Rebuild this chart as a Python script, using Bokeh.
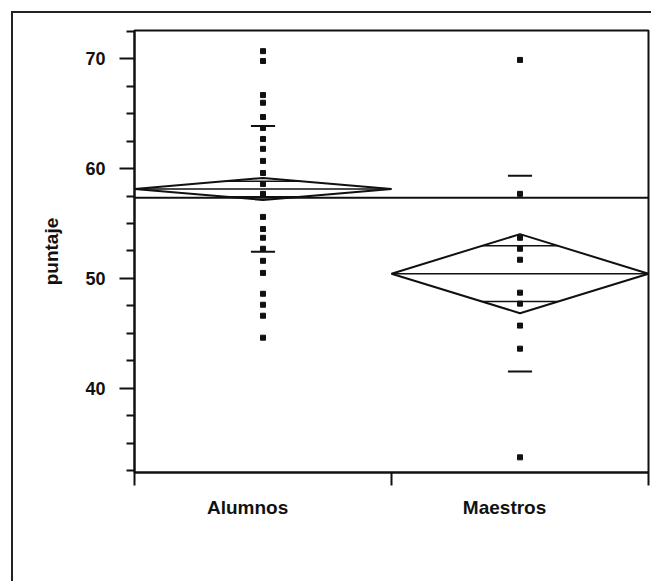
import numpy as np
from bokeh.plotting import figure
from bokeh.models import Range1d, FixedTicker, LinearAxis, Span
from bokeh.embed import file_html
from bokeh.resources import INLINE

# Groups and their individual scores
categories = ["Alumnos", "Maestros"]
alumnos_scores = [70.7, 69.8, 66.7, 66.0, 64.7, 63.7, 62.7, 61.8, 60.7, 59.6, 58.6,
                  57.7, 55.6, 54.5, 53.7, 52.7, 51.6, 50.5, 48.6, 47.6, 46.6, 44.6]
maestros_scores = [69.9, 57.7, 53.7, 52.7, 51.7, 48.7, 47.7, 45.7, 43.6, 33.7]

# Group summaries: means, 95% CI half-widths (diamonds), standard deviations
group_means = [58.15, 50.43]
group_ci_half = [1.0, 3.6]
group_sd = [5.72, 8.91]
grand_mean = 57.35

y_ticks = [40, 50, 60, 70]
y_minor_ticks = [32.5, 35, 37.5, 42.5, 45, 47.5, 52.5, 55, 57.5, 62.5, 65, 67.5, 72.5]

ink = "#111111"
font = "Liberation Sans"

p = figure(width=640, height=570,
           x_range=Range1d(0, 2), y_range=Range1d(32.32, 72.58),
           output_backend="svg", toolbar_location=None,
           x_axis_location=None, margin=(11, 0, 0, 11),
           styles={"border-left": "2px solid #222", "border-top": "2px solid #222"})
p.min_border_left = 121
p.min_border_right = 5
p.min_border_top = 17
p.min_border_bottom = 111
p.xgrid.visible = False
p.ygrid.visible = False
p.outline_line_color = ink
p.outline_line_width = 2
p.outline_line_alpha = 1
p.background_fill_color = "white"
p.border_fill_color = "white"

# y axis
ya = p.yaxis[0]
ya.ticker = FixedTicker(ticks=y_ticks, minor_ticks=y_minor_ticks)
ya.axis_label = "puntaje"
ya.axis_label_text_font = font
ya.axis_label_text_font_style = "bold"
ya.axis_label_text_font_size = "19px"
ya.axis_label_text_color = ink
ya.axis_label_standoff = 20
ya.major_label_text_font = font
ya.major_label_text_font_style = "bold"
ya.major_label_text_font_size = "18px"
ya.major_label_text_color = ink
ya.major_label_standoff = 14
ya.axis_line_width = 2
ya.axis_line_color = ink
ya.major_tick_line_width = 2
ya.major_tick_line_color = ink
ya.major_tick_out = 15
ya.major_tick_in = 0
ya.minor_tick_line_width = 2
ya.minor_tick_line_color = ink
ya.minor_tick_out = 8
ya.minor_tick_in = 0

# x axis: group boundary ticks
n_groups = len(categories)
xa = LinearAxis(ticker=FixedTicker(ticks=list(range(n_groups + 1)), minor_ticks=[]))
xa.major_label_overrides = {i: "" for i in range(n_groups + 1)}
xa.major_label_text_font_size = "1px"
xa.major_label_standoff = 0
xa.axis_line_width = 2
xa.axis_line_color = ink
xa.major_tick_line_width = 2
xa.major_tick_line_color = ink
xa.major_tick_out = 13
xa.major_tick_in = 0
p.add_layout(xa, "below")

# x axis: group names
label_shift = 0.06
label_pos = [i + 0.5 - label_shift for i in range(n_groups)]
xl = LinearAxis(ticker=FixedTicker(ticks=label_pos, minor_ticks=[]))
xl.major_label_overrides = {pos: name for pos, name in zip(label_pos, categories)}
xl.major_label_text_font = font
xl.major_label_text_font_style = "bold"
xl.major_label_text_font_size = "19px"
xl.major_label_text_color = ink
xl.major_label_standoff = 5
xl.axis_line_color = None
xl.major_tick_line_color = None
xl.minor_tick_line_color = None
p.add_layout(xl, "below")

# Grand mean
p.add_layout(Span(location=grand_mean, dimension="width", line_color=ink, line_width=2))

all_scores = [alumnos_scores, maestros_scores]
overlap_frac = 1 / np.sqrt(2)
for i, (m, ci, sd, scores) in enumerate(zip(group_means, group_ci_half, group_sd, all_scores)):
    c = i + 0.5
    # Means diamond
    p.patch([i, c, i + 1, c], [m, m + ci, m, m - ci],
            fill_color=None, line_color=ink, line_width=2)
    # Mean line across the diamond
    p.segment(x0=[i], x1=[i + 1], y0=[m], y1=[m], line_color=ink, line_width=1.5)
    # Overlap marks
    hw = 0.5 * (1 - overlap_frac)
    p.segment(x0=[c - hw, c - hw], x1=[c + hw, c + hw],
              y0=[m + ci * overlap_frac, m - ci * overlap_frac],
              y1=[m + ci * overlap_frac, m - ci * overlap_frac],
              line_color=ink, line_width=1.5)
    # Standard deviation dashes
    dw = 0.047
    p.segment(x0=[c - dw, c - dw], x1=[c + dw, c + dw],
              y0=[m + sd, m - sd], y1=[m + sd, m - sd],
              line_color=ink, line_width=2)
    # Individual scores
    p.scatter(x=[c] * len(scores), y=scores, marker="square", size=5,
              fill_color=ink, line_color=ink)

open("out.html", "w").write(file_html(p, INLINE))
